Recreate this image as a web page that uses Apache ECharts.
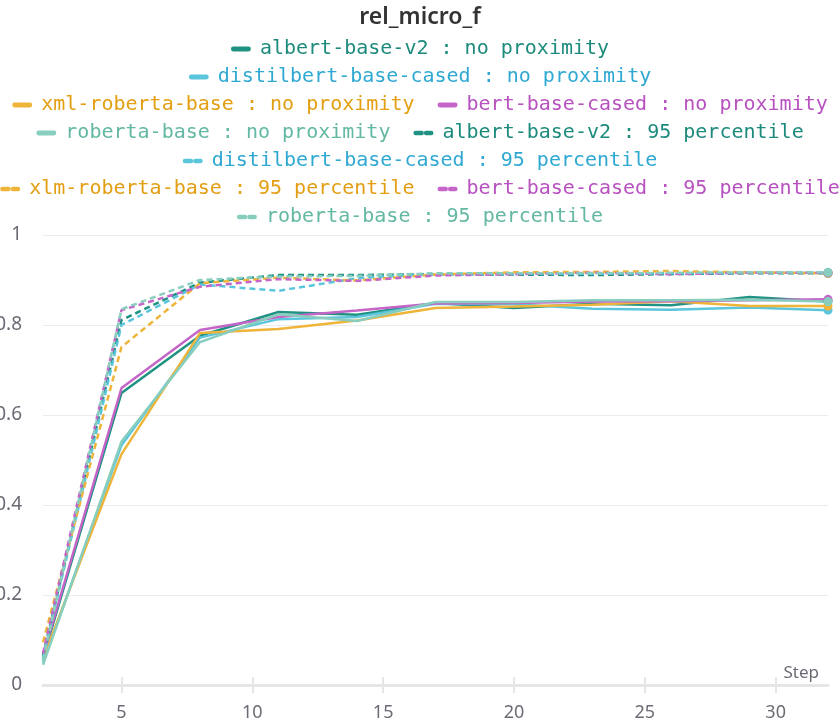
<!DOCTYPE html>
<html>
<head>
<meta charset="utf-8">
<script src="https://cdn.jsdelivr.net/npm/echarts@6/dist/echarts.min.js"></script>
<style>html,body{margin:0;padding:0;background:#fff;}#c{width:840px;height:724px;}</style>
</head>
<body>
<div id="c"></div>
<script>
// ---- data ----
const steps = [2, 5, 8, 11, 14, 17, 20, 23, 26, 29, 32];
const xTicks = [5, 10, 15, 20, 25, 30];
const seriesNames = [
  'albert-base-v2 : no proximity',
  'distilbert-base-cased : no proximity',
  'xml-roberta-base : no proximity',
  'bert-base-cased : no proximity',
  'roberta-base : no proximity',
  'albert-base-v2 : 95 percentile',
  'distilbert-base-cased : 95 percentile',
  'xlm-roberta-base : 95 percentile',
  'bert-base-cased : 95 percentile',
  'roberta-base : 95 percentile'
];
const albertNo    = [0.060, 0.649, 0.776, 0.829, 0.823, 0.849, 0.838, 0.847, 0.844, 0.862, 0.852];
const distilNo    = [0.050, 0.533, 0.772, 0.813, 0.818, 0.847, 0.846, 0.836, 0.834, 0.839, 0.833];
const xmlNo       = [0.058, 0.513, 0.782, 0.791, 0.810, 0.838, 0.841, 0.845, 0.853, 0.842, 0.842];
const bertNo      = [0.065, 0.660, 0.789, 0.818, 0.832, 0.848, 0.849, 0.852, 0.853, 0.855, 0.857];
const robertaNo   = [0.045, 0.541, 0.762, 0.824, 0.809, 0.851, 0.851, 0.855, 0.855, 0.856, 0.852];
const albert95    = [0.065, 0.811, 0.894, 0.911, 0.911, 0.913, 0.912, 0.911, 0.913, 0.915, 0.915];
const distil95    = [0.060, 0.800, 0.890, 0.876, 0.904, 0.913, 0.914, 0.914, 0.915, 0.916, 0.916];
const xlm95       = [0.095, 0.751, 0.893, 0.905, 0.899, 0.912, 0.917, 0.918, 0.920, 0.917, 0.915];
const bert95      = [0.070, 0.833, 0.885, 0.902, 0.898, 0.910, 0.913, 0.916, 0.913, 0.916, 0.916];
const roberta95   = [0.055, 0.835, 0.900, 0.908, 0.909, 0.915, 0.915, 0.915, 0.916, 0.917, 0.917];
const seriesValues = [albertNo, distilNo, xmlNo, bertNo, robertaNo, albert95, distil95, xlm95, bert95, roberta95];

// ---- styles ----
const lineColors = ['#1f9283', '#5bc5db', '#efb43a', '#c565c7', '#87cebf',
                    '#1f9283', '#5bc5db', '#efb43a', '#c565c7', '#87cebf'];
const textColors = ['#1d8b7c', '#2fa9d2', '#e39e12', '#b851c0', '#63b8a3',
                    '#1d8b7c', '#2fa9d2', '#e39e12', '#b851c0', '#63b8a3'];
const dashed = [false, false, false, false, false, true, true, true, true, true];
const legendRows = [[0], [1], [2, 3], [4, 5], [6], [7, 8], [9]];
const solidIcon = 'path://M2,0H18A2,2 0 0 1 18,5H2A2,2 0 0 1 2,0Z';
const dashIcon = 'path://M1,0H8A1,1 0 0 1 8,5H1A1,1 0 0 1 1,0Z M13,0H19A1,1 0 0 1 19,5H13A1,1 0 0 1 13,0Z';
const axisFont = 'Noto Sans';
const axisColor = '#6b6b76';

const legends = legendRows.map((row, i) => ({
  top: 39 + 28 * i,
  left: 'center',
  padding: 0,
  itemGap: 23,
  itemWidth: 20,
  itemHeight: 14,
  itemStyle: { borderWidth: 0 },
  textStyle: { fontFamily: 'DejaVu Sans Mono', fontSize: 20, padding: [0, 0, 0, 4] },
  data: row.map(k => ({
    name: seriesNames[k],
    icon: dashed[k] ? dashIcon : solidIcon,
    textStyle: { color: textColors[k] }
  }))
}));

const last = steps.length - 1;
const series = seriesNames.map((name, k) => ({
  name: name,
  type: 'line',
  data: steps.map((s, j) => [s, seriesValues[k][j]]),
  symbol: 'circle',
  symbolSize: (v, p) => (p.dataIndex === last ? 9 : 0),
  showSymbol: true,
  showAllSymbol: true,
  lineStyle: { width: 2.5, color: lineColors[k], type: dashed[k] ? [6, 4] : 'solid' },
  itemStyle: { color: lineColors[k], borderWidth: 0 },
  emphasis: { disabled: true }
}));

const chart = echarts.init(document.getElementById('c'));
chart.setOption({
  animation: false,
  title: {
    text: 'rel_micro_f',
    left: 'center',
    top: 1,
    textStyle: { fontFamily: axisFont, fontSize: 23, fontWeight: 600, color: '#333' }
  },
  legend: legends,
  grid: { left: 43, right: 12, top: 235, bottom: 39, containLabel: false, outerBoundsMode: 'none' },
  xAxis: [{
    type: 'value',
    min: 2,
    max: 32,
    name: 'Step',
    nameLocation: 'end',
    nameGap: -9,
    nameTextStyle: { fontFamily: axisFont, fontSize: 17, color: axisColor, align: 'right', verticalAlign: 'bottom', padding: [0, 0, 3, 0] },
    axisLine: { show: true, lineStyle: { color: '#e6e6e6', width: 3 } },
    axisTick: { show: true, customValues: xTicks, length: 8, lineStyle: { color: '#e6e6e6', width: 2 } },
    axisLabel: { customValues: xTicks, margin: 19, fontFamily: axisFont, fontSize: 18, color: axisColor },
    splitLine: { show: false }
  }, {
    type: 'value',
    min: 2,
    max: 32,
    position: 'bottom',
    axisLine: { show: false },
    axisTick: { show: true, inside: true, customValues: xTicks, length: 8, lineStyle: { color: '#e6e6e6', width: 2 } },
    axisLabel: { show: false },
    splitLine: { show: false }
  }],
  yAxis: {
    type: 'value',
    min: 0,
    max: 1,
    interval: 0.2,
    axisLine: { show: false },
    axisTick: { show: false },
    axisLabel: { margin: 21, fontFamily: axisFont, fontSize: 19, color: axisColor },
    splitLine: { lineStyle: { color: '#ebebeb', width: 1 } }
  },
  series: series
});
</script>
</body>
</html>
